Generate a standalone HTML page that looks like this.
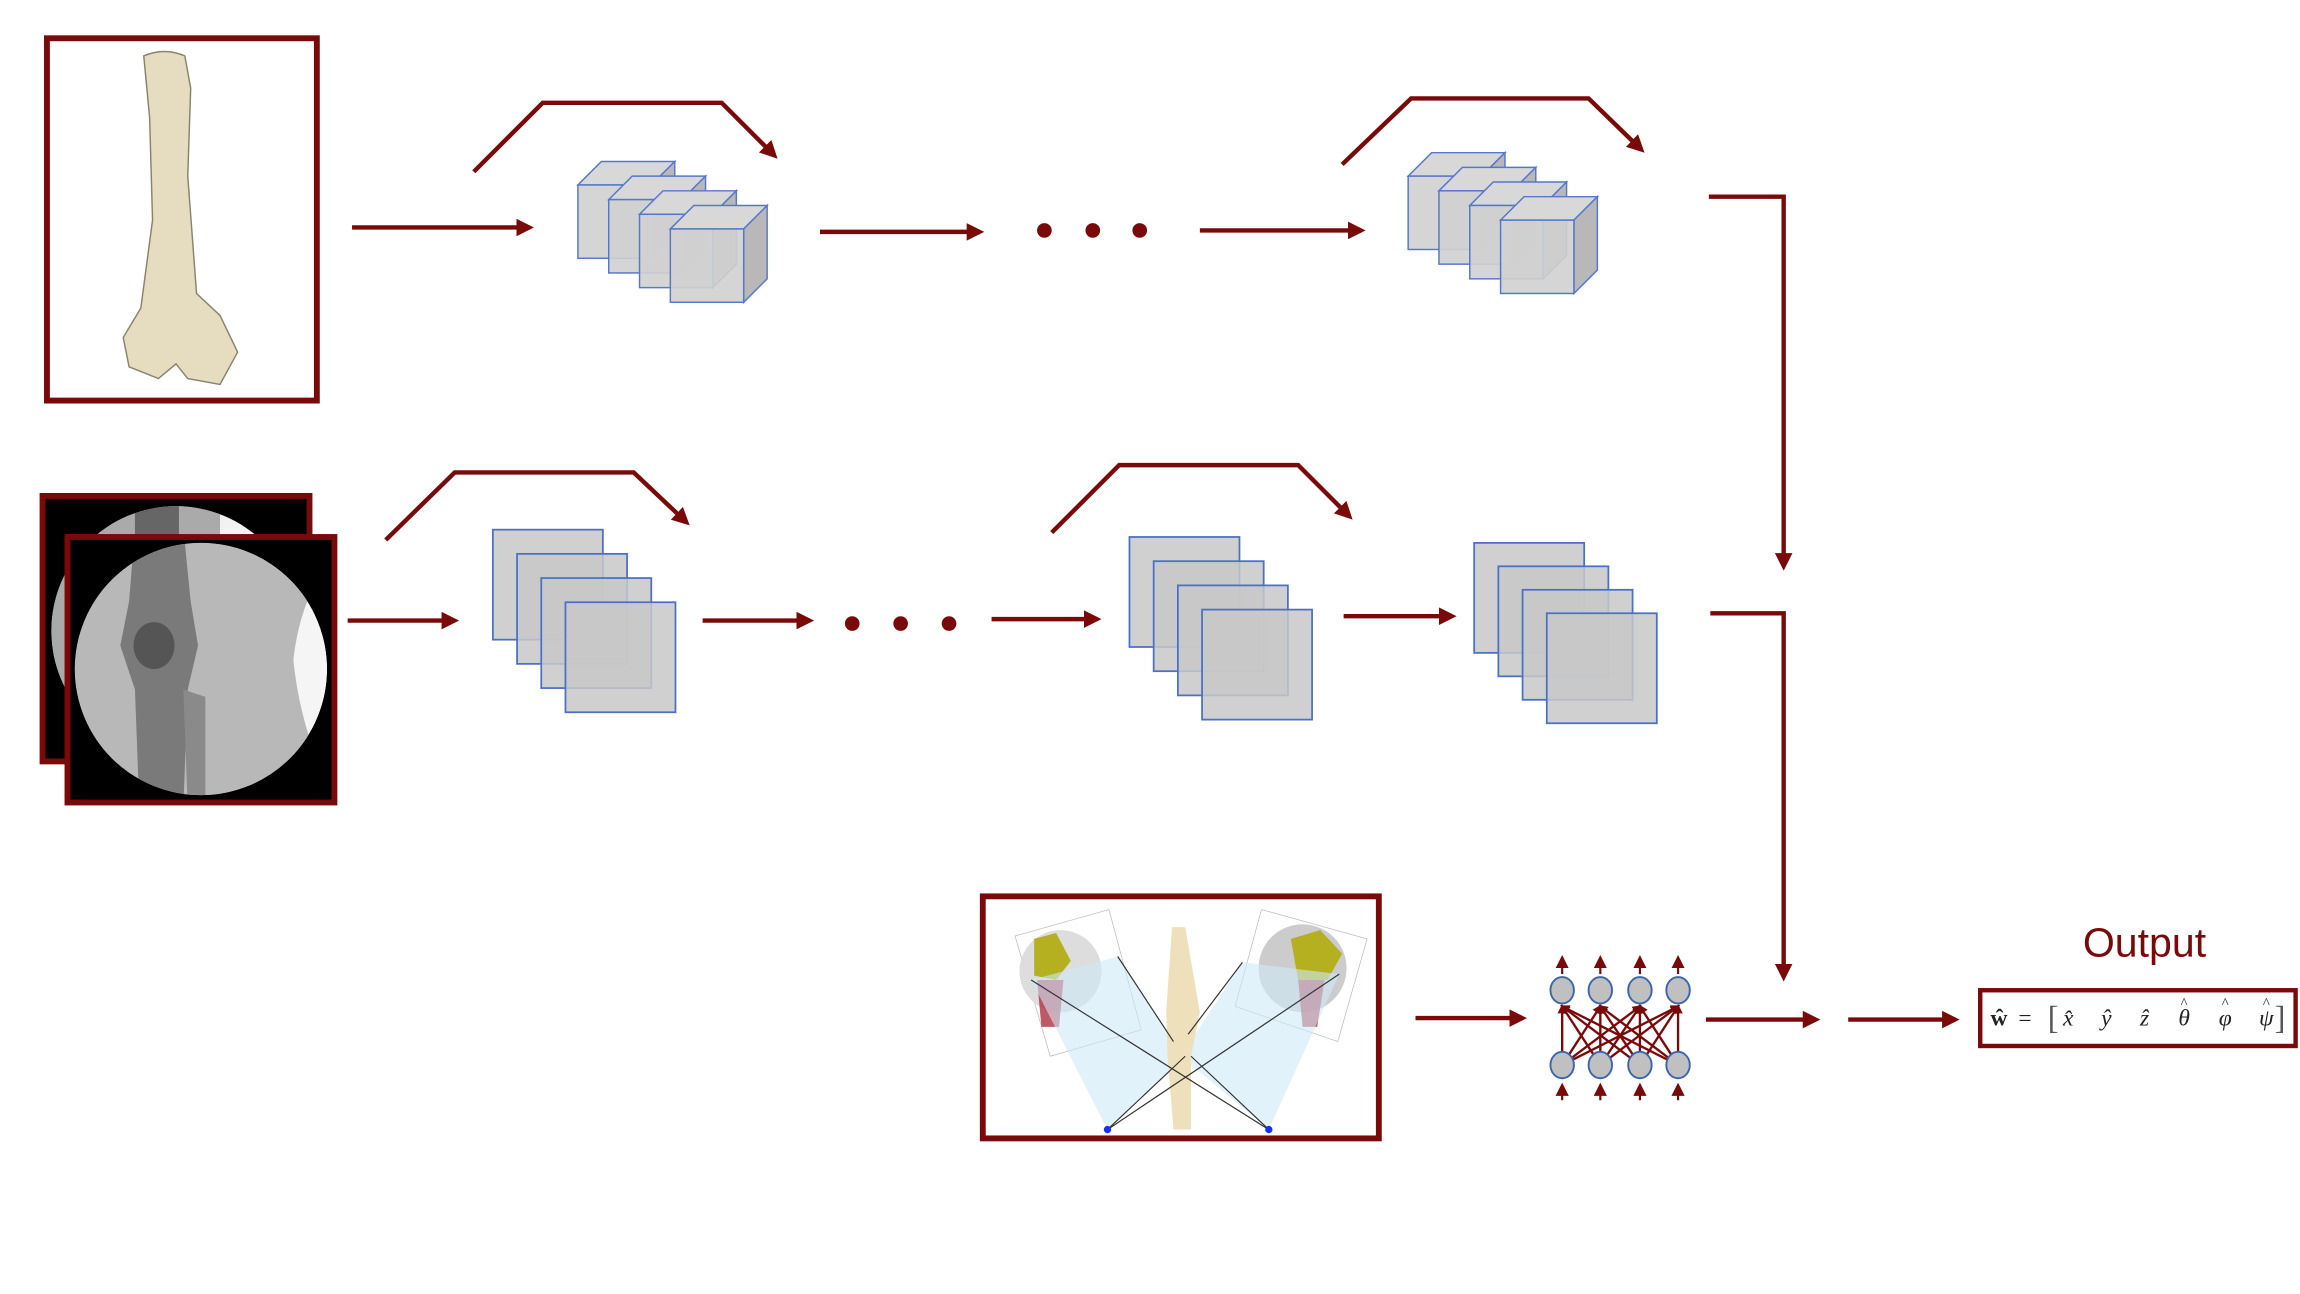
<!DOCTYPE html>
<html><head><meta charset="utf-8"><style>
html,body{margin:0;padding:0;background:#fff;}
svg{display:block;}
</style></head><body>
<svg id="fig" width="2300" height="1294" viewBox="0 0 1568 882" xmlns="http://www.w3.org/2000/svg">
<defs>
<marker id="ah" markerWidth="4" markerHeight="4" refX="3" refY="2" orient="auto" markerUnits="strokeWidth"><path d="M0,0 L4,2 L0,4 z" fill="#7a0a0a"/></marker>
<marker id="ah2" markerWidth="6" markerHeight="6" refX="4" refY="3" orient="auto" markerUnits="strokeWidth"><path d="M0,0 L6,3 L0,6 z" fill="#7a0a0a"/></marker>
<clipPath id="c1"><circle cx="137" cy="456" r="86"/></clipPath>
<clipPath id="c0"><circle cx="120" cy="430" r="85"/></clipPath>
</defs>
<rect x="0" y="0" width="1568" height="882" fill="#fff"/>

<g>
<rect x="32" y="26" width="184" height="247" fill="#fff" stroke="#7a0a0a" stroke-width="4"/>
<path d="M98,38 Q112,32 126,38 L130,60 L128,120 L134,200 L150,215 L162,240 L150,262 L128,258 L120,248 L108,258 L88,250 L84,230 L96,210 L104,150 L102,80 Z" fill="#e6dcc0" stroke="#8a846e" stroke-width="1"/>
</g>

<g>
<rect x="29" y="338" width="182" height="181" fill="#000" stroke="#7a0a0a" stroke-width="4"/>
<g clip-path="url(#c0)"><circle cx="120" cy="430" r="85" fill="#f2f2f2"/><rect x="30" y="340" width="120" height="180" fill="#aaa"/><rect x="92" y="340" width="30" height="180" fill="#666"/></g>
<rect x="46" y="366" width="182" height="181" fill="#000" stroke="#7a0a0a" stroke-width="4"/>
<g clip-path="url(#c1)">
<circle cx="137" cy="456" r="86" fill="#f5f5f5"/>
<path d="M40,360 L240,360 Q205,400 200,450 Q205,500 230,550 L40,550 Z" fill="#b8b8b8"/>
<path d="M92,360 L125,360 L130,410 L135,440 L128,470 L125,550 L95,550 L92,470 L82,440 L88,410 Z" fill="#7a7a7a"/>
<path d="M125,470 L140,475 L140,550 L128,550 Z" fill="#8a8a8a"/>
<ellipse cx="105" cy="440" rx="14" ry="16" fill="#555"/>
</g>
</g>

<g id="arrows" fill="none" stroke="#7a0a0a" stroke-width="3"></g>
<g id="stacks"></g>
<g id="dots" fill="#7a0a0a"></g>

<g>
<rect x="670" y="611" width="270" height="165" fill="#fff" stroke="#7a0a0a" stroke-width="4"/>
<polygon points="692,638 756,620 778,702 716,720" fill="#fff" stroke="#bbb" stroke-width="0.5"/>
<circle cx="723" cy="662" r="28" fill="#ddd"/>
<path d="M705,640 L720,636 L730,655 L720,668 L705,665 Z" fill="#b5b020"/>
<path d="M707,668 L725,668 L722,700 L710,700 Z" fill="#b03040" opacity="0.8"/>
<polygon points="842,686 860,620 932,640 912,710" fill="#fff" stroke="#bbb" stroke-width="0.5"/>
<circle cx="888" cy="660" r="30" fill="#ccc"/>
<path d="M880,640 L900,634 L915,650 L905,668 L885,668 Z" fill="#b5b020"/>
<path d="M885,668 L903,668 L898,700 L888,700 Z" fill="#b03040" opacity="0.8"/>
<polygon points="703,668 762,652 808,721 755,770" fill="#cfeaf7" opacity="0.6"/>
<polygon points="913,664 847,656 805,720 865,770" fill="#cfeaf7" opacity="0.6"/>
<path d="M799,632 L808,632 L818,690 L812,720 L812,770 L800,770 L796,720 L795,690 Z" fill="#eee0bb"/>
<g stroke="#333" stroke-width="0.8" fill="none">
<line x1="703" y1="668" x2="865" y2="770"/><line x1="762" y1="652" x2="800" y2="710"/>
<line x1="913" y1="664" x2="755" y2="770"/><line x1="847" y1="656" x2="810" y2="705"/>
<line x1="755" y1="770" x2="808" y2="720"/><line x1="865" y1="770" x2="812" y2="720"/>
</g>
<circle cx="755" cy="770" r="2.5" fill="#1030ff"/><circle cx="865" cy="770" r="2.5" fill="#1030ff"/>
</g>

<g id="nn"></g>

<text x="1462" y="652" text-anchor="middle" font-family="Liberation Sans, sans-serif" font-size="28" fill="#7a0a0a">Output</text>
<g font-family="Liberation Serif, serif" font-size="16" fill="#222">
<rect x="1350" y="675" width="215" height="38" fill="#fff" stroke="#7a0a0a" stroke-width="3"/>
<text x="1357" y="699" font-weight="bold">ŵ</text>
<text x="1376" y="699">=</text>
<text x="1396" y="701" font-size="22" fill="#555">[</text>
<text x="1558" y="701" font-size="22" fill="#555" text-anchor="end">]</text>
<g font-style="italic" text-anchor="middle">
<text x="1410" y="699">x̂</text><text x="1436" y="699">ŷ</text><text x="1462" y="699">ẑ</text>
<text x="1489" y="699">θ</text><text x="1517" y="699">φ</text><text x="1545" y="699">ψ</text>
<text x="1489" y="687" font-style="normal" font-size="10">^</text>
<text x="1517" y="687" font-style="normal" font-size="10">^</text>
<text x="1545" y="687" font-style="normal" font-size="10">^</text>
</g>
</g>
</svg>
<script>
const NS='http://www.w3.org/2000/svg';
const arrowPaths=[
 "M240,155 L361,155","M323,117 L370,70 L492,70 L528,106",
 "M559,158 L668,158","M818,157 L928,157","M915,112 L962,67 L1083,67 L1119,102",
 "M1165,134 L1216,134 L1216,386",
 "M237,423 L310,423","M263,368 L310,322 L432,322 L468,356",
 "M479,423 L552,423","M676,422 L748,422","M717,363 L763,317 L885,317 L920,352",
 "M916,420 L990,420","M1166,418 L1216,418 L1216,666",
 "M965,694 L1038,694","M1163,695 L1238,695","M1260,695 L1333,695"];
const ag=document.getElementById('arrows');
arrowPaths.forEach(d=>{const p=document.createElementNS(NS,'path');p.setAttribute('d',d);p.setAttribute('marker-end','url(#ah)');


ag.appendChild(p);});
const dotXs=[[712,157],[745,157],[777,157],[581,425],[614,425],[647,425]];
const dg=document.getElementById('dots');
dotXs.forEach(([x,y])=>{const c=document.createElementNS(NS,'circle');c.setAttribute('cx',x);c.setAttribute('cy',y);c.setAttribute('r',5);


dg.appendChild(c);});
const sg=document.getElementById('stacks');
function cubes(x0,y0,dx,dy,n,s,d){const g=document.createElementNS(NS,'g');


for(let i=0;i<n;i++){const x=x0+i*dx,y=y0+i*dy;
 const top=`${x},${y} ${x+d},${y-d} ${x+s+d},${y-d} ${x+s},${y}`;
 const side=`${x+s},${y} ${x+s+d},${y-d} ${x+s+d},${y+s-d} ${x+s},${y+s}`;
 g.innerHTML+=`<polygon points="${top}" fill="#d8d8d8" stroke="#5577cc" stroke-width="1"/><polygon points="${side}" fill="#b8b8b8" stroke="#5577cc" stroke-width="1"/><rect x="${x}" y="${y}" width="${s}" height="${s}" fill="#d0d0d0" fill-opacity="0.9" stroke="#5577cc" stroke-width="1"/>`;}
sg.appendChild(g);}
function squares(x0,y0,dx,dy,n,s){const g=document.createElementNS(NS,'g');


for(let i=0;i<n;i++){g.innerHTML+=`<rect x="${x0+i*dx}" y="${y0+i*dy}" width="${s}" height="${s}" fill="#c8c8c8" fill-opacity="0.85" stroke="#4a70c8" stroke-width="1.2"/>`;}
sg.appendChild(g);}
cubes(394,126,21,10,4,50,16);
cubes(960,120,21,10,4,50,16);
squares(336,361,16.5,16.5,4,75);
squares(770,366,16.5,16.5,4,75);
squares(1005,370,16.5,16,4,75);
const ng=document.getElementById('nn');
const nx=[1065,1091,1118,1144];
let h='';
nx.forEach(a=>nx.forEach(b=>{h+=`<line x1="${a}" y1="726" x2="${b}" y2="686" stroke="#7a0a0a" stroke-width="1.6" marker-end="url(#ah)"/>`;}));
nx.forEach(a=>{h+=`<path d="M${a},664 L${a},654" stroke="#7a0a0a" stroke-width="1.5" marker-end="url(#ah2)"/><path d="M${a},750 L${a},741" stroke="#7a0a0a" stroke-width="1.5" marker-end="url(#ah2)"/>`;
h+=`<ellipse cx="${a}" cy="675" rx="8" ry="9" fill="#c0c0c0" stroke="#3a66b0" stroke-width="1.3"/><ellipse cx="${a}" cy="726" rx="8" ry="9" fill="#c0c0c0" stroke="#3a66b0" stroke-width="1.3"/>`;});
ng.innerHTML=h;
</script>
</body></html>
